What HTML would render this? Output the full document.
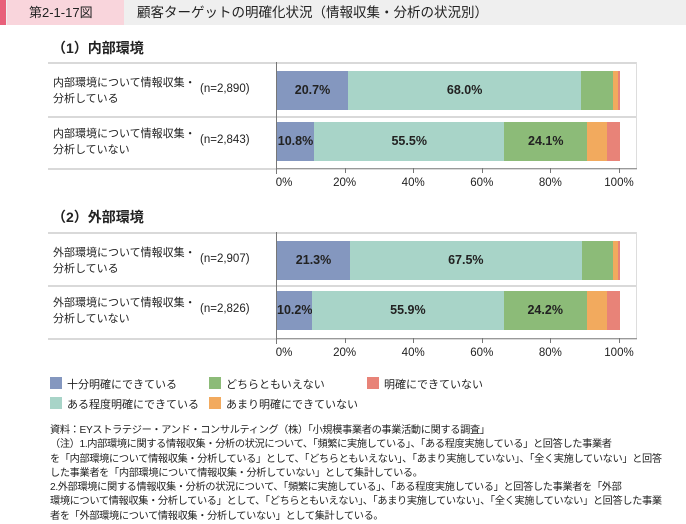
<!DOCTYPE html>
<html><head><meta charset="utf-8"><style>
body{margin:0;width:686px;height:522px;background:#fff;font-family:"Liberation Sans","Noto Sans CJK JP",sans-serif;position:relative;overflow:hidden;color:#222}
div{position:absolute;box-sizing:border-box}
.hl{height:2px;background:#d9d9d9;left:48px;width:589px}
.lab{font-size:11px;line-height:16px;left:53px}
.n{font-size:11.5px;left:200px}
.seg{height:100%;top:0;font-weight:bold;font-size:12.5px;text-align:center;color:#222}
.tick{font-size:11.5px;width:40px;text-align:center}
.lg{width:12px;height:12px}
.lt{font-size:11px}
.note{left:50px;font-size:10.2px;line-height:14.3px;width:640px;white-space:nowrap;letter-spacing:-0.35px}
</style></head><body>
<div style="left:0;top:0;width:686px;height:25px;background:#efefef"></div>
<div style="left:0;top:0;width:6px;height:25px;background:#e8607a"></div>
<div style="left:7px;top:0;width:117px;height:25px;background:#f9d5dc;font-size:13px;line-height:25px;padding-left:22px">第2-1-17図</div>
<div style="left:137px;top:0;font-size:13.5px;line-height:25px">顧客ターゲットの明確化状況（情報収集・分析の状況別）</div>

<div style="left:52px;top:38px;font-size:14px;font-weight:bold">（1）内部環境</div>
<div style="left:52px;top:207px;font-size:14px;font-weight:bold">（2）外部環境</div>

<div id="c"></div>
<script>
const rows=[
 {y:71,l:"内部環境について情報収集・<br>分析している",n:"(n=2,890)",v:[20.7,68.0,9.2,1.4,0.7],t:["20.7%","68.0%","","",""]},
 {y:122,l:"内部環境について情報収集・<br>分析していない",n:"(n=2,843)",v:[10.8,55.5,24.1,5.9,3.7],t:["10.8%","55.5%","24.1%","",""]},
 {y:241,l:"外部環境について情報収集・<br>分析している",n:"(n=2,907)",v:[21.3,67.5,9.3,1.3,0.6],t:["21.3%","67.5%","","",""]},
 {y:291,l:"外部環境について情報収集・<br>分析していない",n:"(n=2,826)",v:[10.2,55.9,24.2,6.0,3.7],t:["10.2%","55.9%","24.2%","",""]}];
const col=["#8497bf","#a8d4c8","#8cbb78","#f2aa5e","#e88378"];
let h="";
[[62,116,168,71],[232,285,338,241]].forEach(([a,b,c])=>{
 [a,b,c].forEach(y=>h+=`<div class="hl" style="top:${y}px"></div>`);
 h+=`<div style="left:276px;top:${a}px;width:1px;height:${c-a+6}px;background:#777"></div>`;
 h+=`<div style="left:276px;top:${c}px;width:361px;height:1px;background:#999"></div>`;
 h+=`<div style="left:636px;top:${a}px;width:1px;height:${c-a}px;background:#ddd"></div>`;
 for(let i=0;i<=5;i++){h+=`<div style="left:${276+i*68.6}px;top:${c}px;width:1px;height:5px;background:#777"></div>`;
 h+=`<div class="tick" style="left:${276+i*68.6-20+(i==0?8:0)}px;top:${c+9}px">${i*20}%</div>`;}
});
rows.forEach(r=>{
 h+=`<div class="lab" style="top:${r.y+4}px">${r.l}</div><div class="n" style="top:${r.y+12}px">${r.n}</div>`;
 let x=277;
 h+=`<div style="left:0;top:${r.y}px;height:39px;width:686px">`;
 r.v.forEach((v,i)=>{const w=v*3.43;h+=`<div class="seg" style="left:${x}px;width:${w}px;background:${col[i]};line-height:39px">${r.t[i]}</div>`;x+=w;});
 h+=`</div>`;
});
document.getElementById("c").outerHTML=h;
</script>

<div class="lg" style="left:50px;top:377px;background:#8497bf"></div><div class="lt" style="left:67px;top:376px">十分明確にできている</div>
<div class="lg" style="left:50px;top:397px;background:#a8d4c8"></div><div class="lt" style="left:67px;top:396px">ある程度明確にできている</div>
<div class="lg" style="left:209px;top:377px;background:#8cbb78"></div><div class="lt" style="left:226px;top:376px">どちらともいえない</div>
<div class="lg" style="left:209px;top:397px;background:#f2aa5e"></div><div class="lt" style="left:226px;top:396px">あまり明確にできていない</div>
<div class="lg" style="left:367px;top:377px;background:#e88378"></div><div class="lt" style="left:384px;top:376px">明確にできていない</div>

<div class="note" style="top:424px">資料：EYストラテジー・アンド・コンサルティング（株）「小規模事業者の事業活動に関する調査」<br>（注）1.内部環境に関する情報収集・分析の状況について、「頻繁に実施している」、「ある程度実施している」と回答した事業者<br>を「内部環境について情報収集・分析している」として、「どちらともいえない」、「あまり実施していない」、「全く実施していない」と回答<br>した事業者を「内部環境について情報収集・分析していない」として集計している。<br>2.外部環境に関する情報収集・分析の状況について、「頻繁に実施している」、「ある程度実施している」と回答した事業者を「外部<br>環境について情報収集・分析している」として、「どちらともいえない」、「あまり実施していない」、「全く実施していない」と回答した事業<br>者を「外部環境について情報収集・分析していない」として集計している。</div>
</body></html>
